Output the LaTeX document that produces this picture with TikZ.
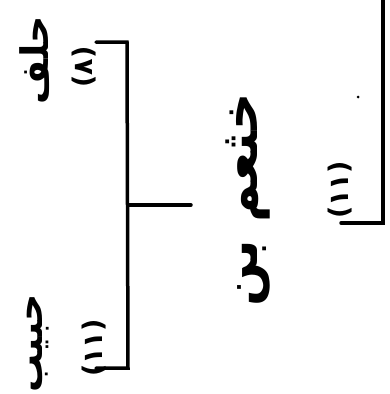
\documentclass[tikz,border=0pt]{standalone}
\usepackage{fontspec}
\usetikzlibrary{positioning}
\newfontfamily\arabicfont[Script=Arabic]{DejaVu Sans}
\TeXXeTstate=1
\tikzset{
  person/.style = {font=\arabicfont\bfseries\fontsize{38}{38}\selectfont,
                   rotate=90, inner sep=0pt},
  tribe/.style  = {font=\arabicfont\bfseries\fontsize{52}{52}\selectfont,
                   rotate=90, inner sep=0pt},
  count/.style  = {font=\arabicfont\bfseries\fontsize{27}{27}\selectfont,
                   rotate=90, inner sep=0pt},
  bar/.style    = {line width=3.5pt, line cap=round, black},
}

\begin{document}
\begin{tikzpicture}[x=1pt, y=-1pt]
  \useasboundingbox (0,0) rectangle (390,394);
  % names and counts
  \node[person] (halaf) at (35,60)  {\beginR حلف\endR};
  \node[count]  (halafn) at (84,67) {(٨)};
  \node[person] (habib) at (38,343) {\beginR حبيب\endR};
  \node[count]  (habibn) at (94,348) {(١١)};
  \node[tribe]  (khatham) at (248,200) {\beginR خثعم بن\endR};
  \node[count]  (rightn) at (340,190) {(١١)};
  % left bracket
  \coordinate (ltop)  at (96,42);
  \coordinate (ltopc) at (127,42);
  \coordinate (lbotc) at (128,368);
  \coordinate (lbot)  at (96,368);
  \draw[bar] (ltop) -- (ltopc) -- (lbotc) -- (lbot);
  \coordinate (fork) at (128,205);
  \coordinate (stem) at (191,205);
  \draw[bar] (fork) -- (stem);
  % right bracket
  \coordinate (rtop)  at (383,-3);
  \coordinate (rbotc) at (383,223);
  \coordinate (rbot)  at (341,223);
  \draw[bar] (rtop) -- (rbotc) -- (rbot);
  \fill (358,97) circle (1.5);
\end{tikzpicture}
\end{document}
